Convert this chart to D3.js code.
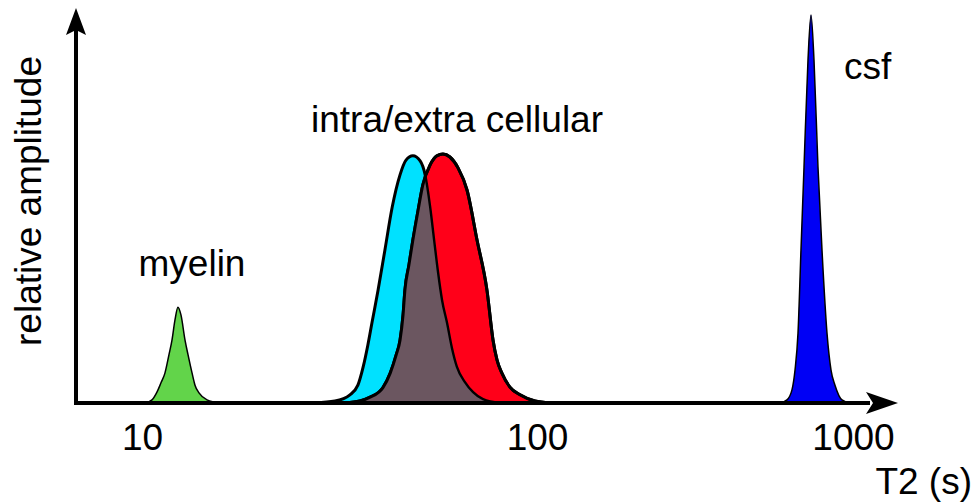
<!doctype html>
<html>
<head>
<script src="https://d3js.org/d3.v7.min.js"></script>
<style>
  body { margin: 0; background: #fff; }
  text { font-family: "Liberation Sans", Arial, sans-serif; }
</style>
</head>
<body>
<script>
    // T2 values (s) and relative amplitudes
    var myelinT2  = [10.18, 10.60, 10.91, 11.17, 11.43, 11.70, 11.91, 12.12, 12.33, 12.55, 12.85, 13.08, 13.39, 13.62, 13.94, 14.61, 15.76];
    var myelinAmp = [0, 0.008, 0.028, 0.052, 0.077, 0.124, 0.162, 0.214, 0.247, 0.227, 0.162, 0.124, 0.077, 0.046, 0.026, 0.008, 0];

    var intraT2  = [27.4, 30.8, 33.6, 35.2, 36.3, 37.3, 38.2, 39.6, 41.2, 43.0, 45.0, 46.6, 48.5, 50.6, 52.1, 53.6, 54.9, 56.2, 57.5, 59.2, 60.9, 62.7, 65.7, 68.9, 73.0, 80.6];
    var intraAmp = [0, 0.005, 0.021, 0.046, 0.093, 0.149, 0.206, 0.291, 0.394, 0.505, 0.588, 0.626, 0.637, 0.624, 0.588, 0.508, 0.420, 0.335, 0.265, 0.206, 0.142, 0.093, 0.054, 0.028, 0.010, 0];

    var extraT2  = [32.7, 35.6, 37.8, 40.7, 42.5, 44.0, 45.0, 45.8, 46.3, 47.4, 48.5, 50.0, 51.4, 53.6, 55.8, 57.8, 60.2, 63.1, 66.5, 70.5, 74.7, 77.4, 79.2, 81.5, 85.4, 90.6, 98.8, 109.9];
    var extraAmp = [0, 0.005, 0.015, 0.039, 0.077, 0.124, 0.162, 0.227, 0.291, 0.356, 0.420, 0.497, 0.562, 0.613, 0.637, 0.642, 0.634, 0.606, 0.549, 0.420, 0.291, 0.162, 0.111, 0.077, 0.041, 0.021, 0.005, 0];

    var csfT2  = [587.5, 618, 641, 655.4, 669.8, 684.5, 699.8, 720.4, 736.4, 752.6, 774.8, 797.8, 827.4, 852, 877, 923, 978];
    var csfAmp = [0, 0.008, 0.034, 0.085, 0.180, 0.394, 0.608, 0.884, 1.0, 0.884, 0.608, 0.394, 0.180, 0.085, 0.046, 0.008, 0];

    var tickValues = [10, 100, 1000];

    var width = 980, height = 503;
    var baseY = 403, axisX = 76;
    var fontSize = "37px";

    var svg = d3.select("body").append("svg")
        .attr("width", width)
        .attr("height", height);

    // the axis in the figure is not evenly spaced per decade, so piecewise log
    var x = d3.scaleLog()
        .domain([10, 100, 1000])
        .range([142, 537, 853]);
    var y = d3.scaleLinear()
        .domain([0, 1])
        .range([baseY, 15]);

    function zip(t, a) {
        return t.map(function(d, i) { return {t: d, a: a[i]}; });
    }

    var area = d3.area()
        .curve(d3.curveMonotoneX)
        .x(function(d) { return x(d.t); })
        .y0(baseY)
        .y1(function(d) { return y(d.a); });
    var line = d3.line()
        .curve(d3.curveMonotoneX)
        .x(function(d) { return x(d.t); })
        .y(function(d) { return y(d.a); });

    var myelin = zip(myelinT2, myelinAmp);
    var intra = zip(intraT2, intraAmp);
    var extra = zip(extraT2, extraAmp);
    var csf = zip(csfT2, csfAmp);

    // myelin
    svg.append("path").attr("d", area(myelin))
        .attr("fill", "#62d44a").attr("stroke", "#000").attr("stroke-width", 1.5);

    // intra / extra, overlap drawn in brown
    var defs = svg.append("defs");
    defs.append("clipPath").attr("id", "clipIntra")
        .append("path").attr("d", area(intra));
    defs.append("clipPath").attr("id", "clipExtra")
        .append("path").attr("d", area(extra));

    svg.append("path").attr("d", area(intra))
        .attr("fill", "#00e1ff").attr("stroke", "#000").attr("stroke-width", 3);
    svg.append("path").attr("d", area(extra))
        .attr("fill", "#ff0019").attr("stroke", "#000").attr("stroke-width", 3);
    svg.append("path").attr("d", area(extra))
        .attr("clip-path", "url(#clipIntra)")
        .attr("fill", "#6b5660");
    svg.append("path").attr("d", line(intra))
        .attr("clip-path", "url(#clipExtra)")
        .attr("fill", "none").attr("stroke", "#000").attr("stroke-width", 2.4);
    svg.append("path").attr("d", line(extra))
        .attr("fill", "none").attr("stroke", "#000").attr("stroke-width", 3);

    // csf
    svg.append("path").attr("d", area(csf))
        .attr("fill", "#0000f5").attr("stroke", "#000").attr("stroke-width", 1.5);

    // axes with arrows
    svg.append("line")
        .attr("x1", axisX).attr("y1", baseY)
        .attr("x2", 870).attr("y2", baseY)
        .attr("stroke", "#000").attr("stroke-width", 4);
    svg.append("path")
        .attr("d", "M898," + baseY + "L866," + (baseY - 11) + "L873," + baseY + "L866," + (baseY + 11) + "Z")
        .attr("fill", "#000");
    svg.append("line")
        .attr("x1", axisX).attr("y1", baseY + 2)
        .attr("x2", axisX).attr("y2", 30)
        .attr("stroke", "#000").attr("stroke-width", 4);
    svg.append("path")
        .attr("d", "M" + axisX + ",8L" + (axisX - 10) + ",35L" + axisX + ",30L" + (axisX + 10) + ",35Z")
        .attr("fill", "#000");

    var xAxis = svg.append("g")
        .attr("transform", "translate(0," + baseY + ")")
        .call(d3.axisBottom(x).tickValues(tickValues).tickSize(0).tickPadding(21)
            .tickFormat(d3.format("d")));
    xAxis.select(".domain").remove();
    xAxis.selectAll("text")
        .style("font-family", "'Liberation Sans', Arial, sans-serif")
        .style("font-size", fontSize)
        .attr("fill", "#000");

    // labels
    svg.append("text")
        .attr("x", 972).attr("y", 494)
        .attr("text-anchor", "end")
        .style("font-size", fontSize)
        .text("T2 (s)");

    svg.append("text")
        .attr("transform", "translate(41,201) rotate(-90)")
        .attr("text-anchor", "middle")
        .style("font-size", fontSize)
        .text("relative amplitude");

    svg.append("text")
        .attr("x", 192).attr("y", 276)
        .attr("text-anchor", "middle")
        .style("font-size", fontSize)
        .text("myelin");

    svg.append("text")
        .attr("x", 311).attr("y", 132)
        .style("font-size", fontSize)
        .text("intra/extra cellular");

    svg.append("text")
        .attr("x", 844).attr("y", 79)
        .style("font-size", fontSize)
        .text("csf");
</script>
</body>
</html>
